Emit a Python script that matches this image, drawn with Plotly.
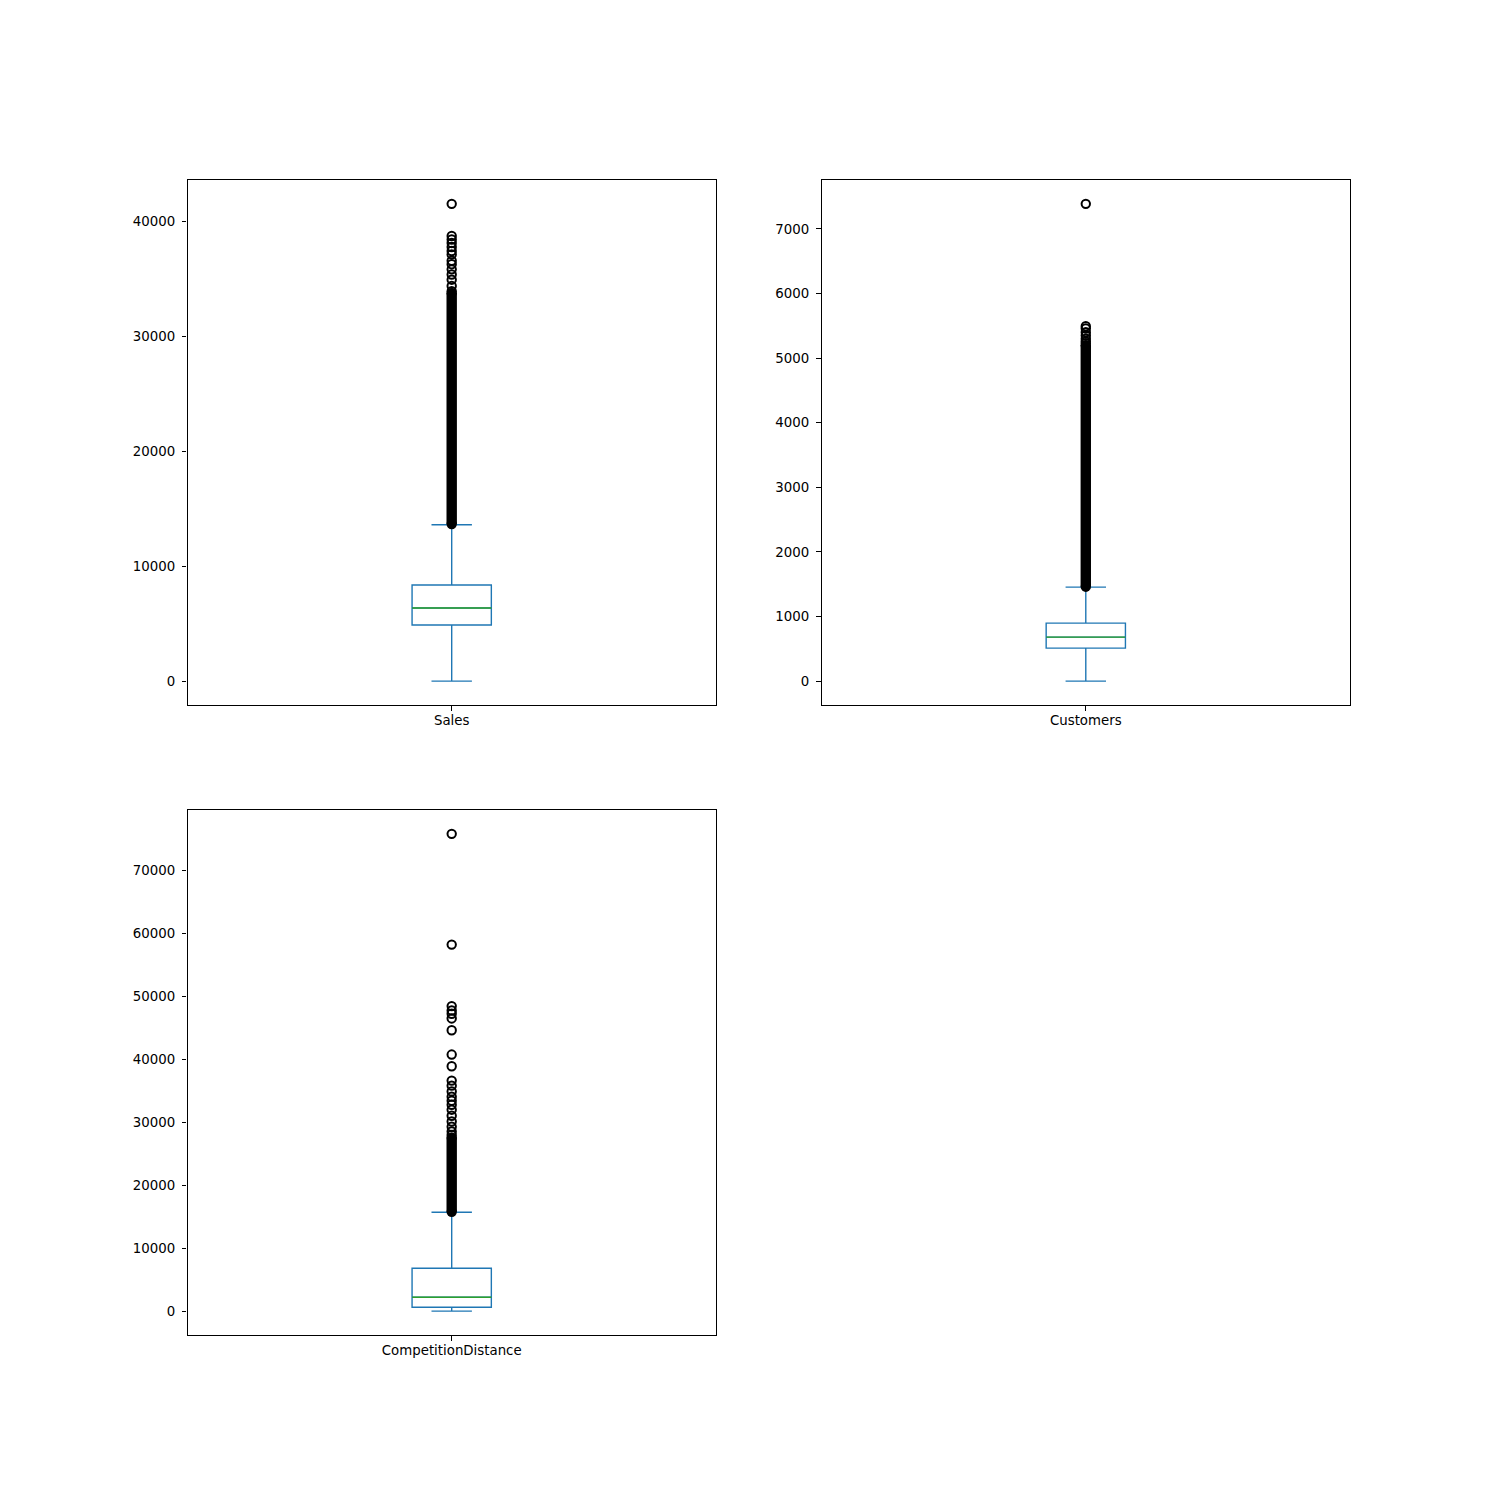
import plotly.graph_objects as go

# ---------------- data ----------------
panels = ["Sales", "Customers", "CompetitionDistance"]

# box statistics: lower whisker, Q1, median, Q3, upper whisker
sales_stats = [0, 4890, 6370, 8370, 13620]
customers_stats = [0, 511, 681, 898, 1455]
compdist_stats = [20, 640, 2230, 6840, 15730]

# densely packed outliers (solid column) : [low, high]
sales_dense = [13680, 33800]
customers_dense = [1462, 5200]
compdist_dense = [15800, 27600]

# individually visible outliers
sales_outliers = [33950, 34400, 34950, 35400, 35850, 36300, 36600, 37150,
                  37450, 37800, 38150, 38450, 38750, 41551]
customers_outliers = [5230, 5260, 5300, 5350, 5400, 5458, 5494, 7388]
compdist_outliers = [28000, 28570, 29320, 30160, 31070, 32030, 32820, 33460,
                     34100, 34940, 35850, 36650, 38930, 40790, 44660, 46530,
                     47280, 47800, 48490, 58260, 75860]

# axis ranges (matplotlib-style 5% margins around the data)
sales_range = [-2077.5, 43628.5]
customers_range = [-369.4, 7757.4]
compdist_range = [-3772, 79652]

sales_ticks = [0, 10000, 20000, 30000, 40000]
customers_ticks = [0, 1000, 2000, 3000, 4000, 5000, 6000, 7000]
compdist_ticks = [0, 10000, 20000, 30000, 40000, 50000, 60000, 70000]

# ---------------- figure ----------------
BLUE = "#1f77b4"
GREEN = "#2ca02c"
LW = 1.4
FONT = dict(family="DejaVu Sans", size=13.33, color="black")

fig = go.Figure()

specs = [
    ("x", "y", sales_stats, sales_dense, sales_outliers),
    ("x2", "y2", customers_stats, customers_dense, customers_outliers),
    ("x3", "y3", compdist_stats, compdist_dense, compdist_outliers),
]

for xa, ya, st, dense, outs in specs:
    lo, q1, med, q3, hi = st
    fig.add_trace(go.Box(
        x=[1], q1=[q1], median=[med], q3=[q3], lowerfence=[lo], upperfence=[hi],
        width=0.15, whiskerwidth=0.51, boxpoints=False,
        line=dict(color=BLUE, width=LW), fillcolor="rgba(255,255,255,0)",
        xaxis=xa, yaxis=ya, showlegend=False, hoverinfo="skip"))
    fig.add_trace(go.Box(
        x=[1], q1=[med], median=[med], q3=[med], lowerfence=[med], upperfence=[med],
        width=0.15, whiskerwidth=0, boxpoints=False,
        line=dict(color=GREEN, width=LW), fillcolor="rgba(255,255,255,0)",
        xaxis=xa, yaxis=ya, showlegend=False, hoverinfo="skip"))
    fig.add_trace(go.Scatter(
        x=[1, 1], y=dense, mode="lines+markers",
        line=dict(color="black", width=10.4),
        marker=dict(symbol="circle", size=10.4, color="black", line=dict(width=0)),
        xaxis=xa, yaxis=ya, showlegend=False, hoverinfo="skip"))
    fig.add_trace(go.Scatter(
        x=[1] * len(outs), y=outs, mode="markers",
        marker=dict(symbol="circle-open", size=8.4, color="black",
                    line=dict(width=2, color="black")),
        xaxis=xa, yaxis=ya, showlegend=False, hoverinfo="skip"))

common_axis = dict(showline=True, mirror=True, linecolor="black", linewidth=1.07,
                   ticks="outside", ticklen=4.67, tickwidth=1.07, tickcolor="black",
                   showgrid=False, zeroline=False, tickfont=FONT)
xaxis_style = dict(common_axis, ticklabelstandoff=-2)
yaxis_style = dict(common_axis, ticklabelstandoff=4)

w = 0.775 / 2.2
h = 0.77 / 2.2
xd1 = [0.125, 0.125 + w]
xd2 = [0.125 + 1.2 * w, 0.9]
yd1 = [0.88 - h, 0.88]
yd2 = [0.11, 0.11 + h]

fig.update_layout(
    width=1500, height=1500,
    margin=dict(l=0, r=0, t=0, b=0),
    paper_bgcolor="white", plot_bgcolor="white",
    boxmode="overlay",
    font=FONT,
    xaxis=dict(domain=xd1, anchor="y", range=[0.5, 1.5], tickvals=[1],
               ticktext=[panels[0]], **xaxis_style),
    yaxis=dict(domain=yd1, anchor="x", range=sales_range, tickvals=sales_ticks,
               ticktext=[str(v) for v in sales_ticks], **yaxis_style),
    xaxis2=dict(domain=xd2, anchor="y2", range=[0.5, 1.5], tickvals=[1],
                ticktext=[panels[1]], **xaxis_style),
    yaxis2=dict(domain=yd1, anchor="x2", range=customers_range,
                tickvals=customers_ticks,
                ticktext=[str(v) for v in customers_ticks], **yaxis_style),
    xaxis3=dict(domain=xd1, anchor="y3", range=[0.5, 1.5], tickvals=[1],
                ticktext=[panels[2]], **xaxis_style),
    yaxis3=dict(domain=yd2, anchor="x3", range=compdist_range,
                tickvals=compdist_ticks,
                ticktext=[str(v) for v in compdist_ticks], **yaxis_style),
)

fig.write_html("out.html")
